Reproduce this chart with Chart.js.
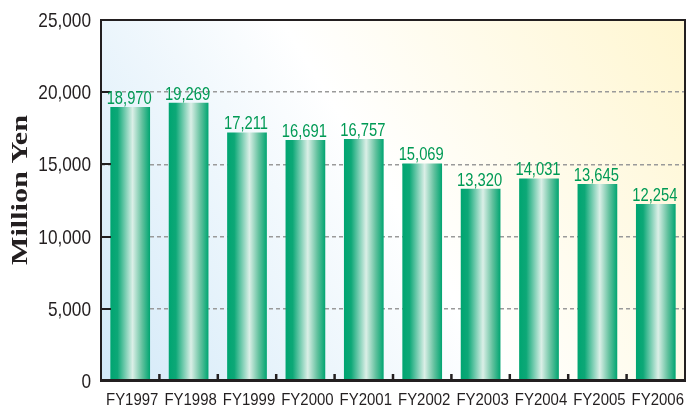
<!DOCTYPE html>
<html>
<head>
<meta charset="utf-8">
<script src="https://cdn.jsdelivr.net/npm/chart.js@4/dist/chart.umd.min.js"></script>
<style>
  html, body { margin: 0; padding: 0; background: #fff; }
  #wrap { width: 686px; height: 409px; }
</style>
</head>
<body>
<div id="wrap"><canvas id="myChart" width="686" height="409"></canvas></div>
<script>
// data
const years = ['FY1997', 'FY1998', 'FY1999', 'FY2000', 'FY2001', 'FY2002', 'FY2003', 'FY2004', 'FY2005', 'FY2006'];
const costs = [18970, 19269, 17211, 16691, 16757, 15069, 13320, 14031, 13645, 12254];
const yTicks = [0, 5000, 10000, 15000, 20000, 25000];
const yTitle = 'Million Yen';

const BAR_PCT = 0.68;
const INK = '#231f20';
const SANS = '"Liberation Sans", Arial, sans-serif';
const SQUEEZE = 0.82; // the original type is a condensed sans

function barGradient(c) {
    const chart = c.chart;
    const xs = chart.scales.x;
    if (!xs || !chart.chartArea) return '#00a676';
    const cx = xs.getPixelForValue(c.dataIndex);
    const w = (xs.width / years.length) * BAR_PCT;
    const g = chart.ctx.createLinearGradient(cx - w / 2, 0, cx + w / 2, 0);
    g.addColorStop(0, '#00a571');
    g.addColorStop(0.18, '#0da877');
    g.addColorStop(0.56, '#dbefe7');
    g.addColorStop(0.8, '#62c19e');
    g.addColorStop(1, '#00a571');
    return g;
}

function squeezedText(ctx, text, x, y, align, baseline, sx) {
    ctx.save();
    ctx.translate(x, y);
    ctx.scale(sx || SQUEEZE, 1);
    ctx.textAlign = align;
    ctx.textBaseline = baseline;
    ctx.fillText(text, 0, 0);
    ctx.restore();
}

// background, frame, inner ticks, labels, y title
const decor = {
    id: 'decor',
    beforeDraw(chart) {
        const { ctx, chartArea: a } = chart;
        const g = ctx.createLinearGradient(a.left, a.bottom, a.right, a.top);
        g.addColorStop(0, '#d3e9f8');
        g.addColorStop(0.5, '#ffffff');
        g.addColorStop(1, '#fff6d0');
        ctx.save();
        ctx.fillStyle = g;
        ctx.fillRect(a.left, a.top, a.right - a.left, a.bottom - a.top);
        ctx.restore();
    },
    afterDatasetsDraw(chart) {
        const { ctx, chartArea: a, scales } = chart;
        ctx.save();
        // frame
        ctx.strokeStyle = INK;
        ctx.lineWidth = 2;
        ctx.beginPath();
        ctx.moveTo(a.left, a.bottom);
        ctx.lineTo(a.left, a.top);
        ctx.lineTo(a.right, a.top);
        ctx.lineTo(a.right, a.bottom);
        ctx.stroke();
        ctx.lineWidth = 3;
        ctx.beginPath();
        ctx.moveTo(a.left - 1, a.bottom - 0.5);
        ctx.lineTo(a.right + 1, a.bottom - 0.5);
        ctx.stroke();
        // y ticks pointing inward + tick labels
        ctx.fillStyle = INK;
        ctx.font = '21px ' + SANS;
        yTicks.forEach(v => {
            const y = Math.round(scales.y.getPixelForValue(v));
            squeezedText(ctx, v.toLocaleString('en-US'), a.left - 10, y + 1, 'right', 'middle');
            if (v === 0 || v === 25000) return;
            ctx.lineWidth = 2;
            ctx.beginPath();
            ctx.moveTo(a.left, y);
            ctx.lineTo(a.left + 10, y);
            ctx.stroke();
        });
        // x ticks between categories + category labels
        const step = scales.x.width / years.length;
        ctx.lineWidth = 2.5;
        for (let i = 1; i < years.length; i++) {
            const x = a.left + step * i;
            ctx.beginPath();
            ctx.moveTo(x, a.bottom);
            ctx.lineTo(x, a.bottom - 7);
            ctx.stroke();
        }
        ctx.font = '17px ' + SANS;
        years.forEach((lab, i) => {
            squeezedText(ctx, lab, scales.x.getPixelForValue(i) + 2, a.bottom + 24, 'center', 'alphabetic', 0.88);
        });
        // value labels
        const meta = chart.getDatasetMeta(0);
        ctx.fillStyle = '#009a55';
        ctx.font = '18px ' + SANS;
        meta.data.forEach((bar, i) => {
            squeezedText(ctx, costs[i].toLocaleString('en-US'), bar.x - 1, bar.y - 3, 'center', 'alphabetic');
        });
        // y title
        ctx.fillStyle = INK;
        ctx.font = 'bold 24px "Liberation Serif", "Times New Roman", serif';
        ctx.textAlign = 'center';
        ctx.textBaseline = 'middle';
        const tw = ctx.measureText(yTitle).width;
        ctx.translate(21, 190);
        ctx.rotate(-Math.PI / 2);
        ctx.scale(150 / tw, 1);
        ctx.fillText(yTitle, 0, 0);
        ctx.restore();
    }
};

const ctx = document.getElementById('myChart');
new Chart(ctx, {
    type: 'bar',
    data: {
        labels: years,
        datasets: [{
            data: costs,
            backgroundColor: barGradient,
            borderWidth: 0,
            categoryPercentage: 1,
            barPercentage: BAR_PCT
        }]
    },
    options: {
        responsive: false,
        animation: false,
        layout: { padding: { top: 20, right: 1, left: 0, bottom: 0 } },
        scales: {
            x: {
                border: { display: false },
                grid: { display: false, drawTicks: false },
                ticks: { display: false },
                afterFit(s) { s.height = 28; s.paddingLeft = 0; s.paddingRight = 0; }
            },
            y: {
                min: 0,
                max: 25000,
                border: { display: false, dash: [4, 3] },
                grid: {
                    drawTicks: false,
                    color: c => (c.tick && (c.tick.value === 0 || c.tick.value === 25000)) ? 'transparent' : '#9a9a9a',
                    lineWidth: 1.5
                },
                afterBuildTicks(s) { s.ticks = yTicks.map(v => ({ value: v })); },
                ticks: { display: false },
                afterFit(s) { s.width = 101; s.paddingTop = 0; s.paddingBottom = 0; }
            }
        },
        plugins: {
            legend: { display: false },
            tooltip: { enabled: false }
        }
    },
    plugins: [decor]
});
</script>
</body>
</html>
